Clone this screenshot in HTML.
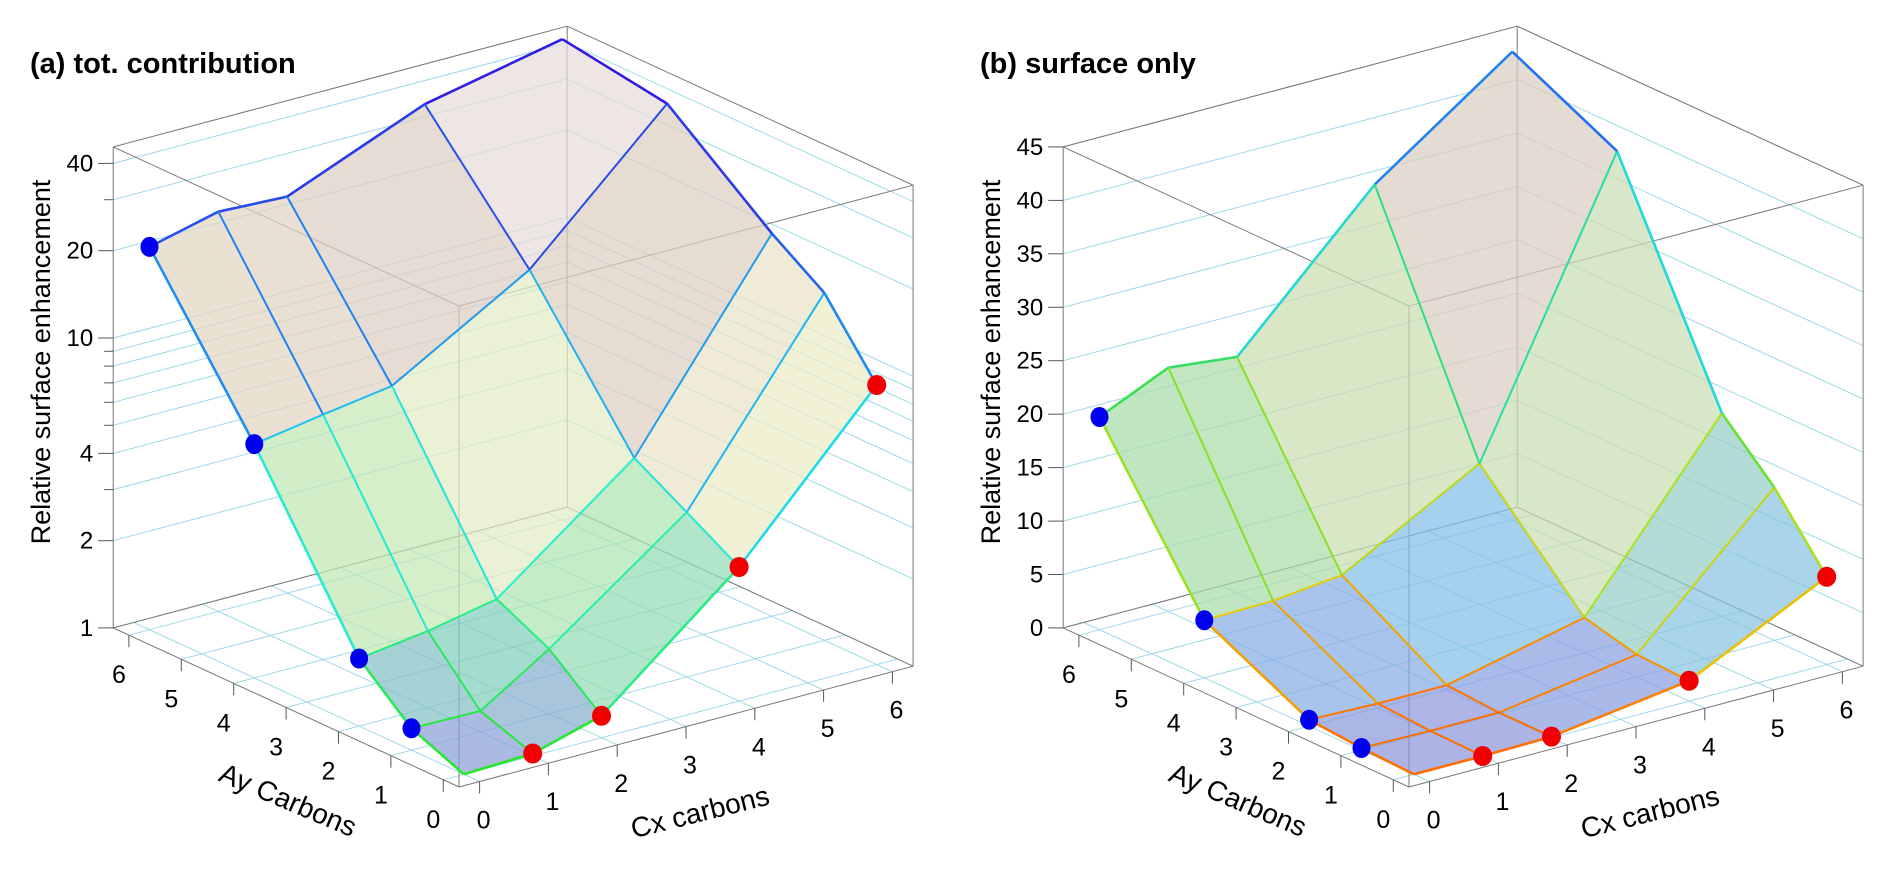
<!DOCTYPE html>
<html><head><meta charset="utf-8">
<style>
html,body{margin:0;padding:0;background:#fff;}
svg{display:block;font-family:"Liberation Sans",Arial,sans-serif;}
</style></head>
<body>
<svg id="chart" width="1892" height="872" viewBox="0 0 1892 872" xmlns="http://www.w3.org/2000/svg">
<text x="30" y="73" font-size="29" font-weight="bold">(a) tot. contribution</text>
<text x="980" y="73" font-size="29" font-weight="bold">(b) surface only</text>
<text transform="translate(50,362) rotate(-90)" text-anchor="middle" font-size="27">Relative surface enhancement</text>
<text transform="translate(1000,362) rotate(-90)" text-anchor="middle" font-size="27">Relative surface enhancement</text>
<text transform="translate(288,800) rotate(23)" text-anchor="middle" dominant-baseline="central" font-size="28">Ay Carbons</text>
<text transform="translate(700,812) rotate(-14)" text-anchor="middle" dominant-baseline="central" font-size="28">Cx carbons</text>
<text transform="translate(1238,800) rotate(23)" text-anchor="middle" dominant-baseline="central" font-size="28">Ay Carbons</text>
<text transform="translate(1650,812) rotate(-14)" text-anchor="middle" dominant-baseline="central" font-size="28">Cx carbons</text>
</svg>
<script>
// ---- data ----
const cxVals = [0, 1, 2, 4, 6];
const ayVals = [0, 1, 2, 4, 6];
// rows = Ay (0,1,2,4,6), cols = Cx (0,1,2,4,6)
const zTotal = [
  [1.0, 1.02, 1.19, 2.9, 9.2],
  [1.19, 1.18, 1.67, 3.7, 15.8],
  [1.71, 1.84, 2.05, 4.7, 20.9],
  [6.4, 7.0, 7.6, 14.3, 40],
  [20.9, 23.9, 23.3, 36.3, 45.5]
];
const zSurface = [
  [0.0, 0.0, 0.1, 1.9, 8.2],
  [0.2, 0.1, 0.1, 2.1, 14.3],
  [0.6, 0.4, 0.4, 3.3, 19.0],
  [5.4, 5.5, 6.2, 13.2, 39],
  [19.9, 22.8, 22.1, 34.8, 43.8]
];
const cxTicks = [0, 1, 2, 3, 4, 5, 6];
const ayTicks = [0, 1, 2, 3, 4, 5, 6];
const zTicksA = [1, 2, 3, 4, 5, 6, 7, 8, 9, 10, 20, 30, 40];
const zLabelsA = [1, 2, 4, 10, 20, 40];
const zTicksB = [0, 5, 10, 15, 20, 25, 30, 35, 40, 45];
const zLabelsB = [0, 5, 10, 15, 20, 25, 30, 35, 40, 45];

const svg = document.getElementById('chart');
const NS = 'http://www.w3.org/2000/svg';
function mk(tag, at) { const e = document.createElementNS(NS, tag); for (const k in at) e.setAttribute(k, at[k]); return e; }

function lerpCol(stops, f) {
  f = Math.max(0, Math.min(1, f));
  for (let i = 1; i < stops.length; i++) {
    if (f <= stops[i][0]) {
      const a = stops[i-1], b = stops[i], t = (f - a[0]) / (b[0] - a[0] || 1);
      const ca = a[1], cb = b[1];
      const c = [0,1,2].map(j => Math.round(ca[j] + (cb[j]-ca[j]) * t));
      return 'rgb(' + c.join(',') + ')';
    }
  }
  const l = stops[stops.length-1][1]; return 'rgb(' + l.join(',') + ')';
}
const lineA = [[0,[40,230,40]],[0.28,[40,240,200]],[0.45,[30,215,240]],[0.7,[32,120,240]],[1,[50,20,225]]];
const lineB = [[0,[255,110,0]],[0.12,[235,200,0]],[0.25,[170,225,30]],[0.45,[60,225,60]],[0.65,[30,215,225]],[0.85,[30,140,240]],[1,[40,80,240]]];
const fillA = [[0,[140,150,220]],[0.15,[128,216,184]],[0.3,[184,232,176]],[0.5,[240,236,200]],[0.72,[221,205,192]],[1,[236,230,234]]];
const fillB = [[0,[140,150,220]],[0.12,[130,190,235]],[0.3,[168,220,168]],[0.5,[224,224,184]],[0.72,[216,205,192]],[1,[238,232,236]]];

function makePanel(cfg) {
  const ox = cfg.ox;
  const H = 481;
  function P(c, a, f) {
    return [ox + 459 + 68.8 * (c + 0.3) - 52.4 * (a + 0.3), 787 - 18.3 * (c + 0.3) - 24.1 * (a + 0.3) - H * f];
  }
  const g = mk('g', {});
  
  
  svg.appendChild(g);
  function line(p, q, stroke, w, name) {
    const l = mk('line', {x1: p[0].toFixed(1), y1: p[1].toFixed(1), x2: q[0].toFixed(1), y2: q[1].toFixed(1), stroke: stroke, 'stroke-width': w});
    
    
    g.appendChild(l);
    return l;
  }
  const grid = '#9fd8ea';
  cxTicks.forEach(c => { line(P(c, -0.3, 0), P(c, 6.3, 0), grid, 1, 'floor-gridline-cx'); });
  ayTicks.forEach(a => { line(P(-0.3, a, 0), P(6.3, a, 0), grid, 1, 'floor-gridline-ay'); });
  cfg.zTicks.forEach(z => {
    const f = cfg.zf(z);
    line(P(-0.3, 6.3, f), P(6.3, 6.3, f), grid, 1, 'wall-gridline-left');
    line(P(6.3, 6.3, f), P(6.3, -0.3, f), grid, 1, 'wall-gridline-right');
  });
  const bc = '#777';
  const corners = [[-0.3,-0.3],[6.3,-0.3],[6.3,6.3],[-0.3,6.3]];
  for (let i = 0; i < 4; i++) {
    const a = corners[i], b = corners[(i+1)%4];
    line(P(a[0], a[1], 0), P(b[0], b[1], 0), bc, 1, 'box-floor-edge');
    line(P(a[0], a[1], 1), P(b[0], b[1], 1), bc, 1, 'box-top-edge');
    line(P(a[0], a[1], 0), P(a[0], a[1], 1), bc, 1, 'box-vertical-edge');
  }
  cfg.zTicks.forEach(z => {
    const p = P(-0.3, 6.3, cfg.zf(z));
    line([p[0] - (cfg.zLabels.indexOf(z) >= 0 ? 15 : 9), p[1]], p, '#555', 1, 'z-tick');
  });
  cfg.zLabels.forEach(z => {
    const p = P(-0.3, 6.3, cfg.zf(z));
    const t = mk('text', {x: (p[0] - 20).toFixed(1), y: (p[1] + 8).toFixed(1), 'text-anchor': 'end', 'font-size': 24});
    t.textContent = z;
    
    
    g.appendChild(t);
  });
  ayTicks.forEach(a => {
    const p = P(-0.3, a, 0);
    line(p, [p[0], p[1] + 12], '#555', 1, 'ay-tick');
    const t = mk('text', {x: (p[0] - 10).toFixed(1), y: (p[1] + 48).toFixed(1), 'text-anchor': 'middle', 'font-size': 25});
    t.textContent = a;
    
    
    g.appendChild(t);
  });
  cxTicks.forEach(c => {
    const p = P(c, -0.3, 0);
    line(p, [p[0], p[1] + 12], '#555', 1, 'cx-tick');
    const t = mk('text', {x: (p[0] + 4).toFixed(1), y: (p[1] + 47).toFixed(1), 'text-anchor': 'middle', 'font-size': 25});
    t.textContent = c;
    
    
    g.appendChild(t);
  });
  const Z = cfg.z;
  const quads = [];
  for (let i = 0; i < ayVals.length - 1; i++) for (let j = 0; j < cxVals.length - 1; j++) quads.push([i, j]);
  quads.sort((q1, q2) => (cxVals[q2[1]] + ayVals[q2[0]]) - (cxVals[q1[1]] + ayVals[q1[0]]));
  quads.forEach(([i, j]) => {
    const pts = [[i,j],[i,j+1],[i+1,j+1],[i+1,j]];
    let fs = 0;
    const coords = pts.map(([a, c]) => { const f = cfg.zf(Z[a][c]); fs += f; return P(cxVals[c], ayVals[a], f); });
    const col = lerpCol(cfg.fill, fs / 4);
    const poly = mk('polygon', {points: coords.map(p => p[0].toFixed(1) + ',' + p[1].toFixed(1)).join(' '), fill: col, 'fill-opacity': 0.72, stroke: col, 'stroke-opacity': 0.5, 'stroke-width': 0.8});
    
    
    g.appendChild(poly);
  });
  function seg(a1, c1, a2, c2, name) {
    const f1 = cfg.zf(Z[a1][c1]), f2 = cfg.zf(Z[a2][c2]);
    const outer = (a1 === a2 && (a1 === 0 || a1 === ayVals.length - 1)) || (c1 === c2 && (c1 === 0 || c1 === cxVals.length - 1));
    line(P(cxVals[c1], ayVals[a1], f1), P(cxVals[c2], ayVals[a2], f2), lerpCol(cfg.line, (f1 + f2) / 2), outer ? 2.6 : 2, name);
  }
  for (let i = 0; i < ayVals.length; i++) for (let j = 0; j < cxVals.length - 1; j++) seg(i, j, i, j + 1, 'mesh-line-cx');
  for (let j = 0; j < cxVals.length; j++) for (let i = 0; i < ayVals.length - 1; i++) seg(i, j, i + 1, j, 'mesh-line-ay');
  for (let i = 1; i < ayVals.length; i++) {
    const p = P(0, ayVals[i], cfg.zf(Z[i][0]));
    const e = mk('ellipse', {cx: p[0].toFixed(1), cy: p[1].toFixed(1), rx: 9, ry: 10, fill: '#0000f0'});
    
    
    g.appendChild(e);
  }
  for (let j = 1; j < cxVals.length; j++) {
    const p = P(cxVals[j], 0, cfg.zf(Z[0][j]));
    const e = mk('ellipse', {cx: p[0].toFixed(1), cy: p[1].toFixed(1), rx: 9.5, ry: 10, fill: '#f00000'});
    
    
    g.appendChild(e);
  }
}

makePanel({name: 'panel-a', ox: 0, z: zTotal, zTicks: zTicksA, zLabels: zLabelsA,
  zf: z => Math.log(z) / Math.log(45.6), line: lineA, fill: fillA});
makePanel({name: 'panel-b', ox: 950, z: zSurface, zTicks: zTicksB, zLabels: zLabelsB,
  zf: z => z / 45, line: lineB, fill: fillB});
</script>
</body></html>
